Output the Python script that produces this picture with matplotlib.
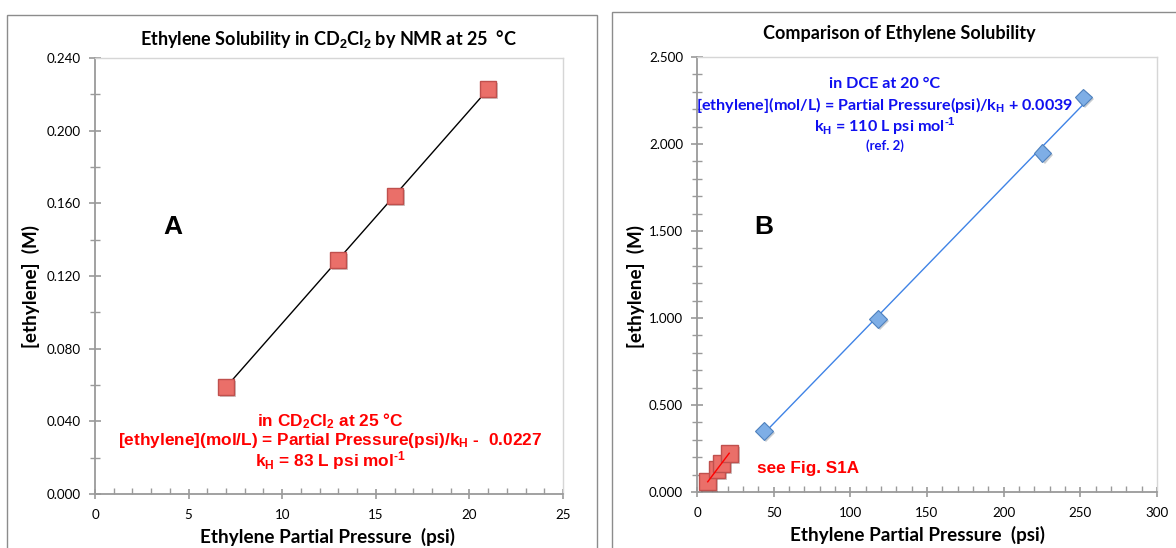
import matplotlib
matplotlib.use('Agg')
import matplotlib.pyplot as plt
import matplotlib.patheffects as pe
from matplotlib.patches import Rectangle
from matplotlib.ticker import MultipleLocator, FormatStrFormatter
import numpy as np

# ─── Data ────────────────────────────────────────────────────────────────────
# CD2Cl2 by NMR at 25 C (this work)
cd_psi = [7.0, 13.0, 16.0, 21.0]
cd_conc = [0.059, 0.129, 0.164, 0.223]
# DCE at 20 C (ref. 2)
dce_psi = [43.5, 118.0, 225.3, 252.0]
dce_conc = [0.352, 0.993, 1.948, 2.268]

W, H = 1176, 548
CALIBRI = 'Lato'
ARIAL = 'Liberation Sans'

plt.rcParams['mathtext.fontset'] = 'custom'
plt.rcParams['mathtext.rm'] = 'Liberation Sans:bold'
plt.rcParams['mathtext.it'] = 'Liberation Sans:bold'
plt.rcParams['mathtext.bf'] = 'Liberation Sans:bold'

SQ_FC = '#EA6F69'
SQ_EC = '#C0504D'
DI_FC = '#7EAEE6'
DI_EC = '#4F81BD'
AXIS_C = '#9A9A9A'
shadow = [pe.SimplePatchShadow(offset=(1.5, -1.5), alpha=0.25), pe.Normal()]

fig = plt.figure(figsize=(W / 100, H / 100), dpi=100)
fig.patch.set_facecolor('white')


def px(x, y):
    return x / W, 1 - y / H


def rect(x0, y0, x1, y1):
    return [x0 / W, 1 - y1 / H, (x1 - x0) / W, (y1 - y0) / H]


# panel frames
fig.add_artist(Rectangle(px(7, 560), 590 / W, (560 - 15) / H, transform=fig.transFigure,
                         fc='none', ec='#8C8C8C', lw=1.0))
fig.add_artist(Rectangle(px(612, 560), 600 / W, (560 - 12) / H, transform=fig.transFigure,
                         fc='none', ec='#8C8C8C', lw=1.0))


def style_axes(ax, xmaj, xmin, ymaj, ymin, yfmt):
    for s in ['left', 'bottom']:
        ax.spines[s].set_color(AXIS_C)
        ax.spines[s].set_linewidth(1.3)
    for s in ['top', 'right']:
        ax.spines[s].set_color('#D6D6D6')
        ax.spines[s].set_linewidth(1.0)
    ax.xaxis.set_major_locator(MultipleLocator(xmaj))
    ax.xaxis.set_minor_locator(MultipleLocator(xmin))
    ax.yaxis.set_major_locator(MultipleLocator(ymaj))
    ax.yaxis.set_minor_locator(MultipleLocator(ymin))
    ax.yaxis.set_major_formatter(FormatStrFormatter(yfmt))
    ax.tick_params(axis='y', which='major', direction='inout', length=8, width=1.2,
                   color=AXIS_C, labelsize=9.6, pad=6)
    ax.tick_params(axis='y', which='minor', direction='inout', length=7, width=1.0, color=AXIS_C)
    ax.tick_params(axis='x', which='major', direction='inout', length=7, width=1.2,
                   color=AXIS_C, labelsize=9.6, pad=7)
    ax.tick_params(axis='x', which='minor', direction='in', length=4, width=1.0, color=AXIS_C)
    for lab in ax.get_xticklabels() + ax.get_yticklabels():
        lab.set_fontfamily(CALIBRI)


# ─── Panel A ─────────────────────────────────────────────────────────────────
axA = fig.add_axes(rect(95, 58, 563, 494))
axA.set_xlim(0, 25)
axA.set_ylim(0, 0.240)
style_axes(axA, 5, 1, 0.040, 0.020, '%.3f')

k, b = np.polyfit(cd_psi, cd_conc, 1)
xf = np.array([min(cd_psi), max(cd_psi)])
axA.plot(xf, k * xf + b, color='black', lw=1.0, zorder=3)
axA.plot(cd_psi, cd_conc, ls='none', marker='s', ms=11.5, mfc=SQ_FC, mec=SQ_EC,
         mew=1.0, zorder=4, path_effects=shadow)

fig.text(*px(328, 39), r'Ethylene Solubility in CD$_2$Cl$_2$ by NMR at 25  °C',
         ha='center', va='center', fontsize=13, fontweight='bold', family=CALIBRI)
fig.text(*px(327, 537), 'Ethylene Partial Pressure  (psi)', ha='center', va='center',
         fontsize=13.6, fontweight='bold', family=CALIBRI)
fig.text(*px(31, 286), '[ethylene]  (M)', ha='center', va='center', rotation=90,
         fontsize=13.6, fontweight='bold', family=CALIBRI)
fig.text(*px(173, 227), 'A', ha='center', va='center', fontsize=19,
         fontweight='bold', family=ARIAL)

RED = '#FF0000'
fig.text(*px(330, 421), r'in CD$_2$Cl$_2$ at 25 °C', ha='center', va='center',
         fontsize=12.4, fontweight='bold', family=ARIAL, color=RED)
fig.text(*px(330, 441), r'[ethylene](mol/L) = Partial Pressure(psi)/k$_H$ -  0.0227',
         ha='center', va='center', fontsize=12.4, fontweight='bold', family=ARIAL, color=RED)
fig.text(*px(330, 461), r'k$_H$ = 83 L psi mol$^{\text{-}1}$', ha='center', va='center',
         fontsize=12.4, fontweight='bold', family=ARIAL, color=RED)

# ─── Panel B ─────────────────────────────────────────────────────────────────
axB = fig.add_axes(rect(697, 57, 1157, 492))
axB.set_xlim(0, 300)
axB.set_ylim(0, 2.5)
style_axes(axB, 50, 10, 0.5, 0.1, '%.3f')

k2, b2 = np.polyfit(dce_psi, dce_conc, 1)
xf2 = np.array([min(dce_psi), max(dce_psi)])
axB.plot(xf2, k2 * xf2 + b2, color='#3F83E6', lw=1.0, zorder=3)
axB.plot(dce_psi, dce_conc, ls='none', marker='D', ms=9, mfc=DI_FC, mec=DI_EC,
         mew=0.8, zorder=4, path_effects=shadow)
axB.plot(xf, k * xf + b, color=RED, lw=1.0, zorder=5)
axB.plot(cd_psi, cd_conc, ls='none', marker='s', ms=12, mfc=SQ_FC, mec=SQ_EC,
         mew=1.0, zorder=4, path_effects=shadow)

fig.text(*px(899, 33), 'Comparison of Ethylene Solubility', ha='center', va='center',
         fontsize=13, fontweight='bold', family=CALIBRI)
fig.text(*px(918, 535), 'Ethylene Partial Pressure  (psi)', ha='center', va='center',
         fontsize=13.6, fontweight='bold', family=CALIBRI)
fig.text(*px(636, 286), '[ethylene]  (M)', ha='center', va='center', rotation=90,
         fontsize=13.6, fontweight='bold', family=CALIBRI)
fig.text(*px(764, 227), 'B', ha='center', va='center', fontsize=19,
         fontweight='bold', family=ARIAL)

BLUE = '#1010F0'
fig.text(*px(885, 84), 'in DCE at 20 °C', ha='center', va='center',
         fontsize=11.6, fontweight='bold', family=CALIBRI, color=BLUE)
fig.text(*px(885, 105), r'[ethylene](mol/L) = Partial Pressure(psi)/k$_H$ + 0.0039',
         ha='center', va='center', fontsize=11.6, fontweight='bold', family=CALIBRI, color=BLUE)
fig.text(*px(885, 126), r'k$_H$ = 110 L psi mol$^{\text{-}1}$', ha='center', va='center',
         fontsize=11.6, fontweight='bold', family=CALIBRI, color=BLUE)
fig.text(*px(885, 146), '(ref. 2)', ha='center', va='center',
         fontsize=9.5, fontweight='bold', family=CALIBRI, color=BLUE)

fig.text(*px(808, 468), 'see Fig. S1A', ha='center', va='center',
         fontsize=12.3, fontweight='bold', family=ARIAL, color=RED)

fig.savefig('out.png', dpi=100, facecolor='white')
